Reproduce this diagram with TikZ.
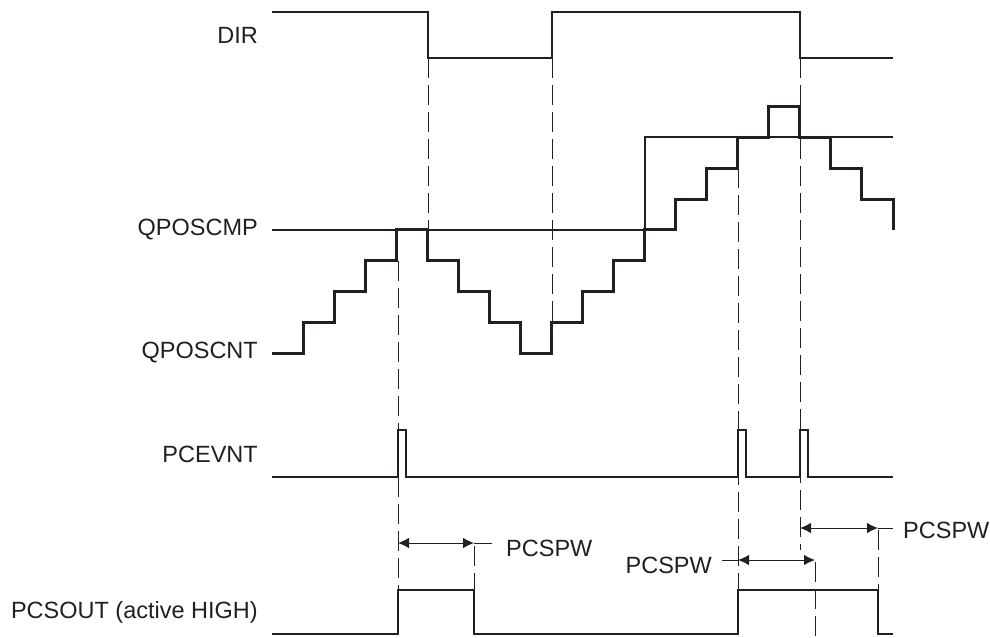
\documentclass[tikz,border=0pt]{standalone}
\usepackage{fontspec}
\setmainfont{Liberation Sans}
\usepackage{tikz}
\usetikzlibrary{arrows.meta, positioning, calc}

\definecolor{ink}{HTML}{231F20}

\begin{document}
\begin{tikzpicture}[
      x=1pt, y=-1pt,
      every node/.style={text=ink, font=\fontsize{23.5}{28}\selectfont, inner sep=0pt},
      siglabel/.style={anchor=east},
      signal/.style={draw=ink, line width=2pt},
      stair/.style={draw=ink, line width=3pt},
      cmpline/.style={draw=ink, line width=1.6pt},
      guide/.style={draw=ink, line width=0.9pt, dash pattern=on 20pt off 7pt},
      dim/.style={draw=ink, line width=1pt, {Latex[length=11pt,width=10.5pt]}-{Latex[length=11pt,width=10.5pt]}},
      ext/.style={draw=ink, line width=1pt}
    ]
      \useasboundingbox (0,0) rectangle (990,637);

      % signal names
      \node[siglabel] (dir) at (258,35) {DIR};
      \node[siglabel] (cmp) at (258,230) {QPOSCMP};
      \node[siglabel] (cnt) at (258,353) {QPOSCNT};
      \node[siglabel] (evnt) at (258,454) {PCEVNT};
      \node[siglabel] (out) at (258,612) {PCSOUT (active HIGH)};

      % DIR
      \draw[signal] (272,12) -| (428,58) -| (552,12) -| (800,58) -- (893,58);

      % QPOSCMP
      \draw[cmpline] (272,230) -| (645,137) -- (893,137);

      % QPOSCNT staircase
      \draw[stair, line join=miter] (272,353)
        \foreach \n [count=\k] in {1,2,3,4,3,2,1,0,1,2,3,4,5,6,7,8,7,6,5,4} {
          -| ({272+31.05*\k},{353-30.8*\n})
        };

      % PCEVNT
      \draw[signal] (272,477) -| (398,430) -| (406,477) -| (738,430) -| (746,477)
        -| (800,430) -| (808,477) -- (893,477);

      % PCSOUT
      \draw[signal] (272,634) -| (398,590) -| (474,634) -| (738,590) -| (878,634) -- (893,634);

      % guide lines
      \draw[guide] (398,261) -- (398,590);
      \draw[guide] (428,58) -- (428,230);
      \draw[guide] (552,58) -- (552,322);
      \draw[guide] (738,168) -- (738,590);
      \draw[guide] (800,58) -- (800,550);
      \draw[guide] (474,546) -- (474,590);
      \draw[guide] (815,562) -- (815,637);
      \draw[guide] (878,530) -- (878,590);

      % pulse widths
      \coordinate (w1a) at (398,543);
      \coordinate (w1b) at (474,543);
      \coordinate (w1c) at (492,543);
      \draw[dim] (w1a) -- (w1b);
      \draw[ext] (w1b) -- (w1c);
      \node[anchor=west] (pw1) at (506,548) {PCSPW};

      \coordinate (w2a) at (738,560);
      \coordinate (w2b) at (815,560);
      \coordinate (w2c) at (722,560);
      \draw[dim] (w2a) -- (w2b);
      \draw[ext] (w2c) -- (w2a);
      \node[anchor=east] (pw2) at (712,565) {PCSPW};

      \coordinate (w3a) at (800,528);
      \coordinate (w3b) at (878,528);
      \coordinate (w3c) at (893,528);
      \draw[dim] (w3a) -- (w3b);
      \draw[ext] (w3b) -- (w3c);
      \node[anchor=west] (pw3) at (903,530) {PCSPW};
    \end{tikzpicture}
\end{document}
